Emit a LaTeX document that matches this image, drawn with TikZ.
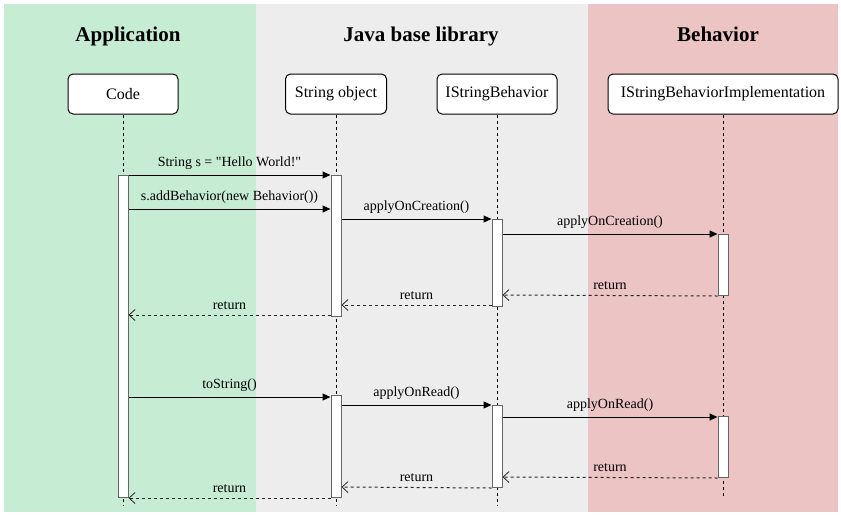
\documentclass[tikz,border=0pt]{standalone}
\usepackage{fontspec}
\setmainfont{Liberation Serif}
\usetikzlibrary{arrows.meta}
\definecolor{appgreen}{RGB}{198,236,212}
\definecolor{libgray}{RGB}{237,237,237}
\definecolor{behpink}{RGB}{236,196,196}
\definecolor{bargray}{RGB}{102,102,102}
\tikzset{
  obj/.style={draw=black, line width=1pt, fill=white, rounded corners=5pt, minimum height=40pt, inner sep=0pt, font=\fontsize{16}{18}\selectfont},
  hdr/.style={font=\fontsize{21}{24}\selectfont\bfseries, anchor=base},
  life/.style={draw=black, line width=1pt, dash pattern=on 3pt off 3pt},
  actbar/.style={draw=bargray, line width=1pt, fill=white, minimum width=10pt, inner sep=0pt, anchor=north},
  call/.style={draw=black, line width=1pt, -{Triangle[length=8pt,width=7pt]}},
  ret/.style={draw=black!85, line width=1pt, dash pattern=on 3pt off 3pt, -{Straight Barb[length=6pt,width=11pt,line width=0.8pt]}},
  lbl/.style={font=\fontsize{14}{16}\selectfont, inner sep=2pt, above=3pt, fill=none}
}
\begin{document}
\begin{tikzpicture}[x=1pt,y=-1pt]
\useasboundingbox (0,0) rectangle (841,515);
\fill[white] (0,0) rectangle (841,515);
% swimlanes
\fill[appgreen] (4,4) rectangle (256,512);
\fill[libgray] (256,4) rectangle (588,512);
\fill[behpink] (588,4) rectangle (838,512);
% headers
\node[hdr] (happ) at (128,41) {Application};
\node[hdr] (hlib) at (421,41) {Java base library};
\node[hdr] (hbeh) at (718,41) {Behavior};
% objects
\node[obj, minimum width=110pt] (code) at (123,94) {Code};
\node[obj, minimum width=101pt] (sobj) at (336,94) {String object};
\node[obj, minimum width=120pt] (isb) at (497,94) {IStringBehavior};
\node[obj, minimum width=230pt] (impl) at (723,94) {IStringBehaviorImplementation};
% lifelines
\coordinate (codeend) at (123,505);
\coordinate (sobjend) at (336,505);
\coordinate (isbend) at (497,505);
\coordinate (implend) at (723,497);
\draw[life] (code.south) -- (codeend);
\draw[life] (sobj.south) -- (sobjend);
\draw[life] (isb.south) -- (isbend);
\draw[life] (impl.south) -- (implend);
% activation bars
\node[actbar, minimum height=322pt] (codebar) at (123,175) {};
\node[actbar, minimum height=141pt] (so1) at (336,175) {};
\node[actbar, minimum height=102pt] (so2) at (336,395) {};
\node[actbar, minimum height=87pt] (isb1) at (497,219) {};
\node[actbar, minimum height=82pt] (isb2) at (497,405) {};
\node[actbar, minimum height=61pt] (impl1) at (723,234) {};
\node[actbar, minimum height=61pt] (impl2) at (723,416) {};
% messages
\draw[call] (codebar.east |- 0,175) -- node[lbl] {String s = \textquotedbl Hello World!\textquotedbl} (so1.west |- 0,175);
\draw[call] (codebar.east |- 0,209) -- node[lbl] {s.addBehavior(new Behavior())} (so1.west |- 0,209);
\draw[call] (so1.east |- 0,219) -- node[lbl] {applyOnCreation()} (isb1.north west);
\draw[call] (isb1.east |- 0,234) -- node[lbl] {applyOnCreation()} (impl1.north west);
\draw[ret] (impl1.south west) -- node[lbl] {return} (isb1.east |- 0,295);
\draw[ret] (isb1.west |- 0,305) -- node[lbl] {return} (so1.east |- 0,305);
\draw[ret] (so1.west |- 0,315) -- node[lbl] {return} (codebar.east |- 0,315);
\draw[call] (codebar.east |- 0,397) -- node[lbl] {toString()} (so2.west |- 0,397);
\draw[call] (so2.east |- 0,405) -- node[lbl] {applyOnRead()} (isb2.north west);
\draw[call] (isb2.east |- 0,417) -- node[lbl] {applyOnRead()} (impl2.west |- 0,417);
\draw[ret] (impl2.south west) -- node[lbl] {return} (isb2.east |- 0,477);
\draw[ret] (isb2.south west) -- node[lbl] {return} (so2.east |- 0,487);
\draw[ret] (so2.south west) -- node[lbl] {return} (codebar.south east);
\end{tikzpicture}
\end{document}
